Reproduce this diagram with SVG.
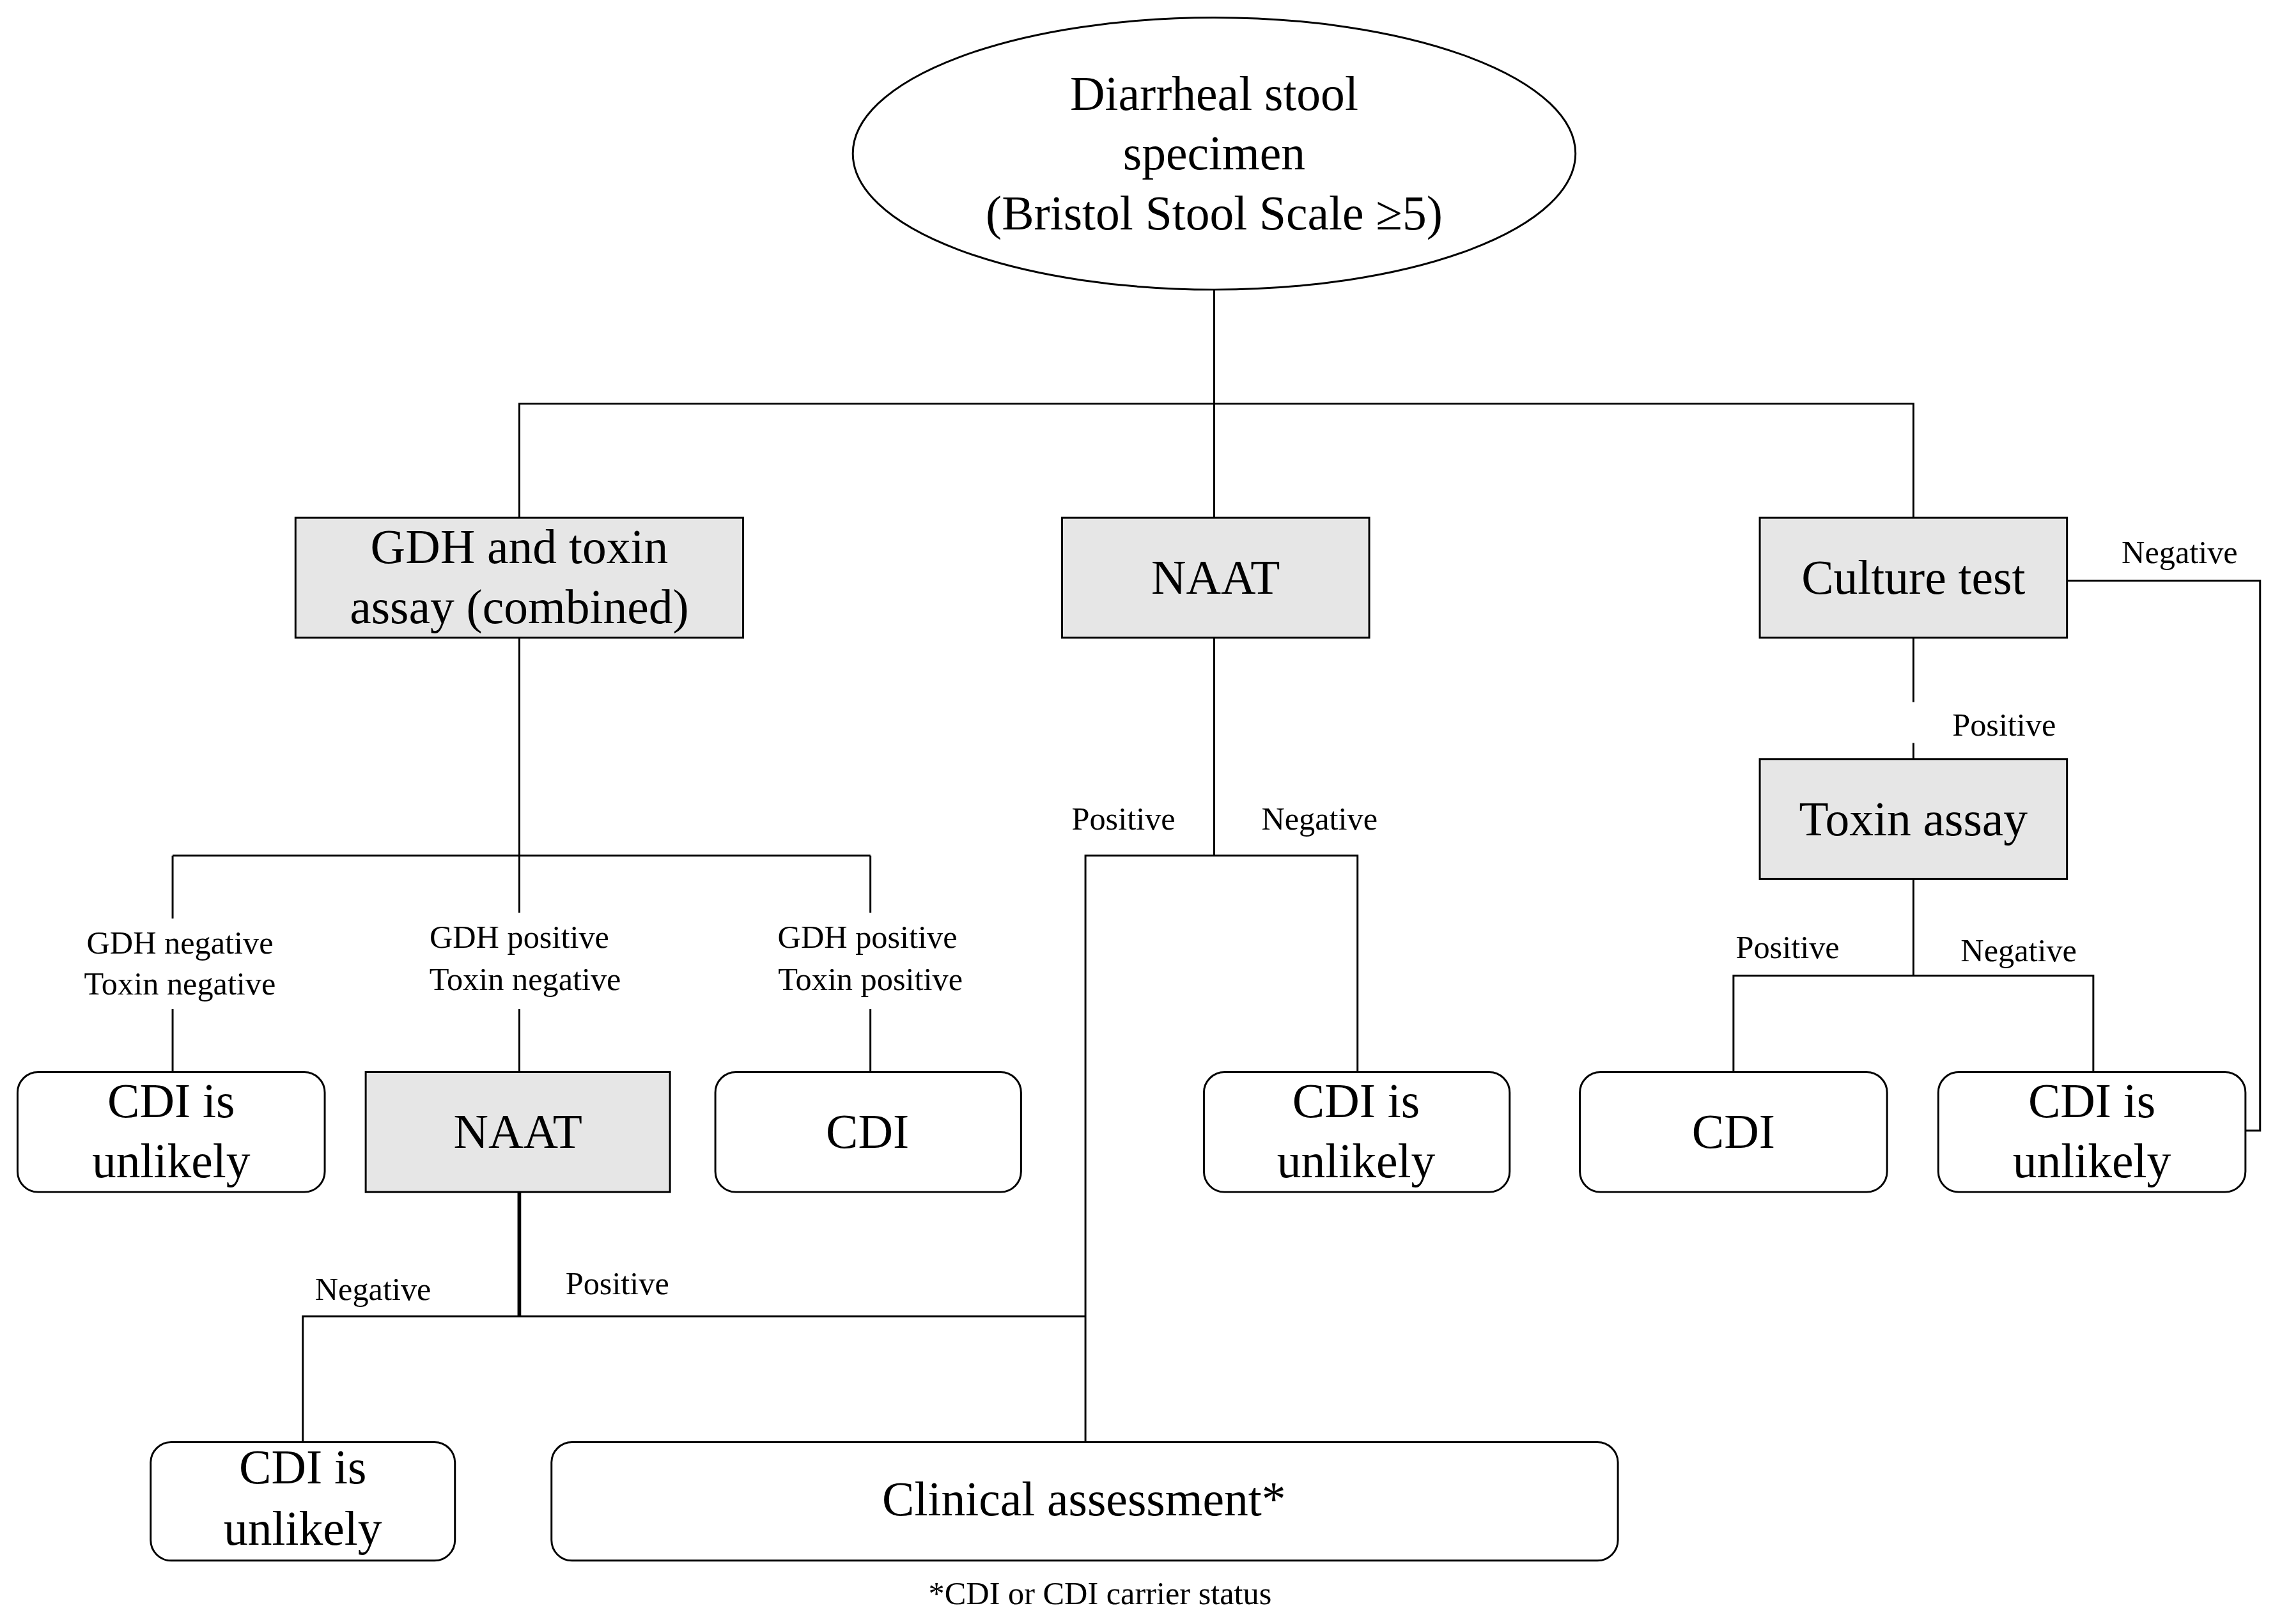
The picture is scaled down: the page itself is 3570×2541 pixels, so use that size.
<svg xmlns="http://www.w3.org/2000/svg" width="3570" height="2541" viewBox="0 0 3570 2541">
<style>
.b{fill:#e6e6e6;stroke:#000;stroke-width:1.3}
.r{fill:#fff;stroke:#000;stroke-width:1.3}
.t{font-family:"Liberation Serif",serif;font-size:33px;text-anchor:middle;fill:#000}
.s{font-family:"Liberation Serif",serif;font-size:22px;text-anchor:middle;fill:#000}
#conn path{fill:none;stroke:#000;stroke-width:1.3}
</style>
<rect width="3570" height="2541" fill="#fff"/>
<g transform="scale(2.2885)">
<g id="conn">
<path d="M830,198V276M355,354V276H1308V354M830,276V354"/>
<path d="M355,436V585M118,585H595M118,585V628M118,690V733M355,585V624M355,690V733M595,585V624M595,690V733"/>
<path d="M355,815V900" style="stroke-width:2.5"/>
<path d="M207,986V900H742M742,986V585H830V436M830,585H928V733"/>
<path d="M1308,436V480M1308,508V519M1308,601V667M1185,733V667H1431V733M1413,397H1545V773H1535"/>
</g>
<g id="start"><ellipse cx="830" cy="105" rx="247" ry="93" fill="#fff" stroke="#000" stroke-width="1.3"/>
<text class="t" x="830" y="75">Diarrheal stool</text><text class="t" x="830" y="116">specimen</text><text class="t" x="830" y="157">(Bristol Stool Scale ≥5)</text></g>
<g id="gdh"><rect class="b" x="202" y="354" width="306" height="82"/><text class="t" x="355" y="385">GDH and toxin</text><text class="t" x="355" y="426">assay (combined)</text></g>
<g id="naat1"><rect class="b" x="726" y="354" width="210" height="82"/><text class="t" x="831" y="406">NAAT</text></g>
<g id="culture"><rect class="b" x="1203" y="354" width="210" height="82"/><text class="t" x="1308" y="406">Culture test</text></g>
<g id="toxin"><rect class="b" x="1203" y="519" width="210" height="82"/><text class="t" x="1308" y="571">Toxin assay</text></g>
<g id="u1"><rect class="r" x="12" y="733" width="210" height="82" rx="14"/><text class="t" x="117" y="764">CDI is</text><text class="t" x="117" y="805">unlikely</text></g>
<g id="naat2"><rect class="b" x="250" y="733" width="208" height="82"/><text class="t" x="354" y="785">NAAT</text></g>
<g id="cdi1"><rect class="r" x="489" y="733" width="209" height="82" rx="14"/><text class="t" x="593" y="785">CDI</text></g>
<g id="u2"><rect class="r" x="823" y="733" width="209" height="82" rx="14"/><text class="t" x="927" y="764">CDI is</text><text class="t" x="927" y="805">unlikely</text></g>
<g id="cdi2"><rect class="r" x="1080" y="733" width="210" height="82" rx="14"/><text class="t" x="1185" y="785">CDI</text></g>
<g id="u3"><rect class="r" x="1325" y="733" width="210" height="82" rx="14"/><text class="t" x="1430" y="764">CDI is</text><text class="t" x="1430" y="805">unlikely</text></g>
<g id="u4"><rect class="r" x="103" y="986" width="208" height="81" rx="14"/><text class="t" x="207" y="1014">CDI is</text><text class="t" x="207" y="1056">unlikely</text></g>
<g id="clin"><rect class="r" x="377" y="986" width="729" height="81" rx="14"/><text class="t" x="741" y="1036">Clinical assessment*</text></g>
<g id="labels">
<text class="s" x="123" y="652">GDH negative</text><text class="s" x="123" y="680">Toxin negative</text>
<text class="s" x="355" y="648">GDH positive</text><text class="s" x="359" y="677">Toxin negative</text>
<text class="s" x="593" y="648">GDH positive</text><text class="s" x="595" y="677">Toxin positive</text>
<text class="s" x="768" y="567">Positive</text><text class="s" x="902" y="567">Negative</text>
<text class="s" x="255" y="889">Negative</text><text class="s" x="422" y="885">Positive</text>
<text class="s" x="1370" y="503">Positive</text><text class="s" x="1490" y="385">Negative</text>
<text class="s" x="1222" y="655">Positive</text><text class="s" x="1380" y="657">Negative</text>
<text class="s" x="752" y="1097">*CDI or CDI carrier status</text>
</g>
</g>
</svg>
